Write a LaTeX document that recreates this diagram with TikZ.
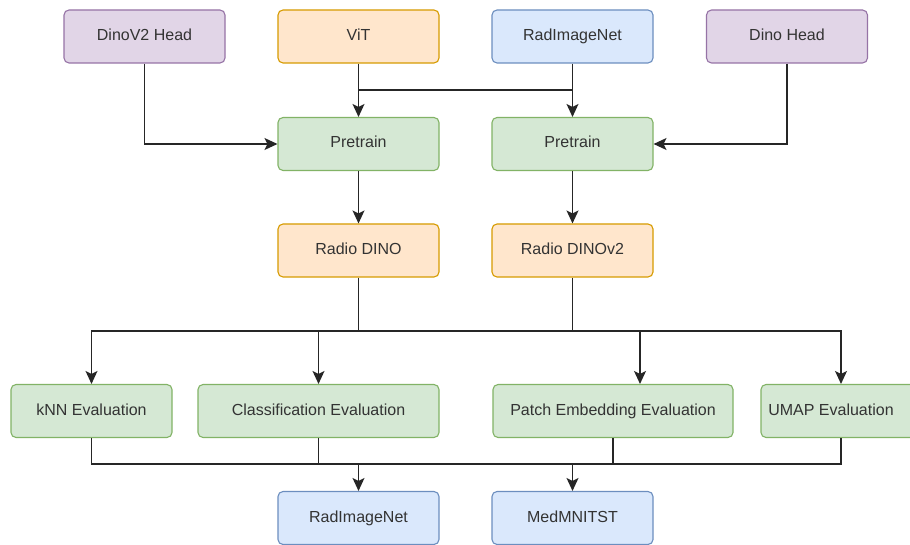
\documentclass[tikz,border=0pt]{standalone}
\usepackage{fontspec}
\setmainfont{Liberation Sans}
\usetikzlibrary{arrows.meta,calc}
\definecolor{txt}{HTML}{333333}
\definecolor{pfill}{HTML}{E1D5E7}\definecolor{pdraw}{HTML}{9673A6}
\definecolor{ofill}{HTML}{FFE6CC}\definecolor{odraw}{HTML}{D79B00}
\definecolor{bfill}{HTML}{DAE8FC}\definecolor{bdraw}{HTML}{6C8EBF}
\definecolor{gfill}{HTML}{D5E8D4}\definecolor{gdraw}{HTML}{82B366}
\begin{document}
\begin{tikzpicture}[x=1pt,y=-1pt,
  box/.style={rectangle,rounded corners=5pt,line width=1.1pt,minimum height=53pt,minimum width=161pt,inner sep=0pt,
     text=txt,font=\fontsize{16}{19}\selectfont,text height=11.5pt,text depth=3.5pt},
  pbox/.style={box,fill=pfill,draw=pdraw},
  obox/.style={box,fill=ofill,draw=odraw},
  bbox/.style={box,fill=bfill,draw=bdraw},
  gbox/.style={box,fill=gfill,draw=gdraw},
  link/.style={line width=1.3pt,draw=black!85},
  arr/.style={link,-{Stealth[length=13pt,width=12pt,inset=3pt]}}]
\clip (0,0) rectangle (910,545);
\fill[white] (0,0) rectangle (910,545);
% row 1
\node[pbox] (dv2) at (144.5,36.5) {DinoV2 Head};
\node[obox] (vit) at (358.5,36.5) {ViT};
\node[bbox] (rad) at (572.5,36.5) {RadImageNet};
\node[pbox] (dh) at (787,36.5) {Dino Head};
% row 2
\node[gbox] (pre1) at (358.5,144) {Pretrain};
\node[gbox] (pre2) at (572.5,144) {Pretrain};
% row 3
\node[obox] (rd) at (358.5,250.5) {Radio DINO};
\node[obox] (rd2) at (572.5,250.5) {Radio DINOv2};
% row 4
\node[gbox] (knn) at (91.5,411) {kNN Evaluation};
\node[gbox,minimum width=241pt] (cls) at (318.5,411) {Classification Evaluation};
\node[gbox,minimum width=240pt] (pat) at (613,411) {Patch Embedding Evaluation};
\node[gbox,minimum width=160pt] (umap) at (841,411) {};
\node[text=txt,font=\fontsize{16}{19}\selectfont,text height=11.5pt,text depth=3.5pt,inner sep=0pt] (umapt) at (831,411) {UMAP Evaluation};
% row 5
\node[bbox] (rin) at (358.5,518) {RadImageNet};
\node[bbox] (med) at (572.5,518) {MedMNITST};
% junctions
\coordinate (j1) at (358.5,90);
\coordinate (j2) at (572.5,90);
\coordinate (m1) at (358.5,331);
\coordinate (m2) at (572.5,331);
\coordinate (b1) at (358.5,464);
\coordinate (b2) at (572.5,464);
% top connectors
\draw[arr] (dv2.south) |- (pre1.west);
\draw[arr] (dh.south) |- (pre2.east);
\draw[arr] (vit.south) -- (pre1.north);
\draw[arr] (rad.south) -- (pre2.north);
\draw[link] (j1) -- (j2);
\draw[arr] (pre1.south) -- (rd.north);
\draw[arr] (pre2.south) -- (rd2.north);
% middle bus
\draw[link] (rd.south) -- (m1);
\draw[link] (rd2.south) -- (m2);
\draw[link] (m1) -- (m2);
\draw[arr] (m1) -| (knn.north);
\draw[arr] (m1) -| (cls.north);
\draw[arr] (m2) -| ([xshift=27pt]pat.north);
\draw[arr] (m2) -| (umap.north);
% bottom bus
\draw[link] (knn.south) |- (b1);
\draw[link] (cls.south) |- (b1);
\draw[link] (pat.south) |- (b2);
\draw[link] (umap.south) |- (b2);
\draw[link] (b1) -- (b2);
\draw[arr] (b1) -- (rin.north);
\draw[arr] (b2) -- (med.north);
\end{tikzpicture}
\end{document}
